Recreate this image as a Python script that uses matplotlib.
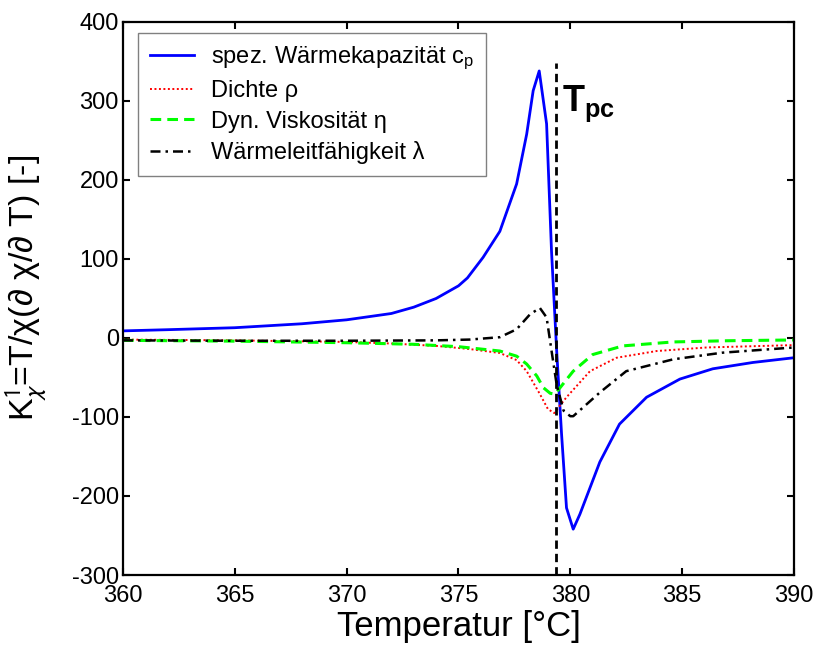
import numpy as np
import matplotlib
matplotlib.use("Agg")
import matplotlib.pyplot as plt

plt.rcParams['font.family'] = ['Liberation Sans', 'DejaVu Sans']
plt.rcParams['mathtext.fontset'] = 'custom'
plt.rcParams['mathtext.rm'] = 'Liberation Sans'
plt.rcParams['mathtext.it'] = 'Liberation Sans:italic'
plt.rcParams['mathtext.bf'] = 'Liberation Sans:bold'
plt.rcParams['axes.unicode_minus'] = False

# K = T/chi * dchi/dT for the four fluid properties
t_cp = [360.0, 362.0, 365.0, 368.0, 370.0, 372.0, 373.0, 374.0, 375.0, 375.4, 376.1,
        376.85, 377.6, 378.05, 378.34, 378.61, 378.94, 379.16, 379.39, 379.61, 379.83,
        380.13, 380.43, 381.32, 382.2, 383.41, 384.9, 386.37, 388.16, 390.0]
k_cp = [9, 10.5, 13, 18, 23, 31, 39, 50, 66, 76, 102,
        135, 195, 258, 313, 338, 271, 110, -16, -122, -215,
        -242, -223, -157, -109, -75, -52, -39, -31, -25]

t_rho = [360.0, 365.0, 370.0, 372.0, 374.0, 375.5, 376.85, 377.6, 378.05, 378.64,
         379.0, 379.28, 379.55, 379.83, 380.88, 382.07, 383.86, 386.1, 390.0]
k_rho = [-2, -3, -5, -7, -10, -14, -19, -28, -42, -71,
         -90, -95, -85, -75, -42, -25, -16.5, -12, -9]

t_eta = [360.0, 365.0, 370.0, 373.0, 375.0, 376.85, 377.6, 378.05, 378.5, 378.8,
         379.1, 379.3, 379.54, 380.13, 381.0, 382.35, 384.6, 387.0, 390.0]
k_eta = [-3, -4, -6, -8, -11, -16.5, -23, -33, -48, -63,
         -70, -71, -63, -42, -21, -10, -5, -3.5, -2.5]

t_lam = [360.0, 365.0, 370.0, 374.0, 375.5, 376.85, 377.6, 378.2, 378.64, 378.94,
         379.16, 379.39, 379.7, 380.0, 380.13, 381.32, 382.5, 384.6, 386.8, 390.0]
k_lam = [-3, -3.5, -3.5, -3, -2, 1, 11, 30, 38, 26,
         -16, -59, -92, -99, -99, -69, -42, -27, -18.6, -12]

t_pc = 379.35
labels = ['spez. Wärmekapazität c$_{\\mathrm{p}}$', 'Dichte ρ',
          'Dyn. Viskosität η', 'Wärmeleitfähigkeit λ']

fig = plt.figure(figsize=(8.16, 6.46), dpi=100)
ax = fig.add_axes([0.1507, 0.1099, 0.8223, 0.8561])

ax.plot(t_cp, k_cp, color='#0000ff', lw=2.0, label=labels[0])
ax.plot(t_rho, k_rho, color='#ff0000', lw=1.4, ls=(0, (1, 1.3)), label=labels[1])
ax.plot(t_eta, k_eta, color='#00ff00', lw=2.2, ls=(0, (3.5, 2)), label=labels[2])
ax.plot(t_lam, k_lam, color='black', lw=1.8, ls=(0, (4, 2, 1, 2)), label=labels[3])

ax.plot([t_pc, t_pc], [-300, 348], color='black', lw=2.0, ls=(0, (3, 1.8)))
ax.text(379.62, 287, r'$\mathbf{T_{pc}}$', fontsize=26, va='baseline', ha='left')

ax.set_xlim(360, 390)
ax.set_ylim(-300, 400)
ax.set_xticks(np.arange(360, 391, 5))
ax.set_yticks(np.arange(-300, 401, 100))

for s in ax.spines.values():
    s.set_linewidth(1.6)
ax.tick_params(direction='in', length=5, width=1.5, top=True, right=True,
               labelsize=17)
ax.tick_params(axis='x', pad=7)
ax.tick_params(axis='y', pad=3)

ax.set_xlabel('Temperatur [°C]', fontsize=25, labelpad=2)
ax.set_ylabel(r'K$^{1}_{\chi}$=T/χ(∂ χ/∂ T) [-]', fontsize=24.5,
              math_fontfamily='stixsans')
ax.yaxis.set_label_coords(-0.11, 0.52)

leg = ax.legend(loc='upper left', bbox_to_anchor=(0.022, 0.98), borderaxespad=0,
                fontsize=17, fancybox=False, framealpha=1, edgecolor='#808080',
                handlelength=1.9, handletextpad=0.7, labelspacing=0.35,
                borderpad=0.5)
leg.get_frame().set_linewidth(1.0)

fig.savefig('out.png', dpi=100)
